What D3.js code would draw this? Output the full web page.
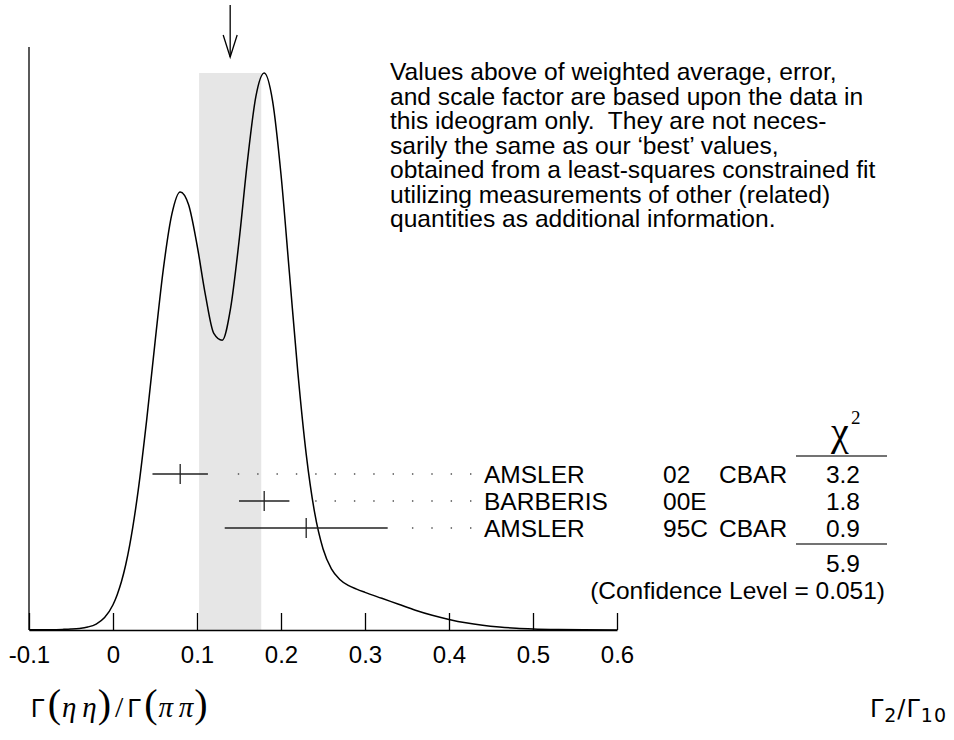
<!DOCTYPE html>
<html>
<head>
<meta charset="utf-8">
<script src="https://cdn.jsdelivr.net/npm/d3@7"></script>
<style>
  body { margin: 0; background: #fff; }
  text { font-family: "Liberation Sans", Arial, Helvetica, sans-serif; fill: #000; }
</style>
</head>
<body>
<div class="chart"></div>
<script>
var svgWidth = 954;
var svgHeight = 740;

// ideogram curve (x value, height in arbitrary units)
var ideoX = [-0.10, -0.08, -0.06, -0.05, -0.04, -0.03, -0.02, -0.01, 0.00, 0.005, 0.01, 0.015,
  0.02, 0.03, 0.04, 0.05, 0.06, 0.07, 0.08, 0.09, 0.10, 0.11, 0.12, 0.13, 0.14, 0.15,
  0.16, 0.17, 0.18, 0.19, 0.20, 0.21, 0.22, 0.23, 0.24, 0.25, 0.26, 0.27, 0.28, 0.29,
  0.30, 0.32, 0.34, 0.36, 0.38, 0.40, 0.42, 0.44, 0.46, 0.48, 0.50, 0.53, 0.56, 0.60];
var ideoY = [0.3, 0.6, 1.3, 2.0, 3.4, 6.5, 13, 27, 55, 77, 105, 141,
  186, 304, 456, 626, 787, 905, 954, 926, 839, 730, 646, 631, 701, 846,
  1020, 1161, 1213, 1152, 992, 778, 562, 383, 256, 177, 133, 110, 97, 89,
  82, 69, 56, 43, 32, 23, 15.6, 10.2, 6.4, 3.8, 2.2, 0.9, 0.3, 0.1];

// measurements
var names = ["AMSLER", "BARBERIS", "AMSLER"];
var years = ["02", "00E", "95C"];
var techs = ["CBAR", "", "CBAR"];
var values = [0.080, 0.180, 0.230];
var errors = [0.033, 0.030, 0.097];
var chi2 = ["3.2", "1.8", "0.9"];
var chi2Total = "5.9";
var confLevel = "0.051";

// weighted average and scaled error
var average = 0.1395;
var averageErr = 0.037;

var tickValues = [-0.1, 0, 0.1, 0.2, 0.3, 0.4, 0.5, 0.6];
var tickLabels = ["-0.1", "0", "0.1", "0.2", "0.3", "0.4", "0.5", "0.6"];

var noteLines = [
  "Values above of weighted average, error,",
  "and scale factor are based upon the data in",
  "this ideogram only.  They are not neces-",
  "sarily the same as our \u2018best\u2019 values,",
  "obtained from a least-squares constrained fit",
  "utilizing measurements of other (related)",
  "quantities as additional information."
];

var baseY = 630;

var svg = d3.select(".chart")
  .append("svg")
  .attr("width", svgWidth)
  .attr("height", svgHeight);

var xScale = d3.scaleLinear()
  .domain([-0.1, 0.6])
  .range([29, 617]);

var yScale = d3.scaleLinear()
  .domain([0, d3.max(ideoY)])
  .range([baseY, 73]);

var rowScale = d3.scalePoint()
  .domain(d3.range(names.length))
  .range([474, 528]);

// shaded band = average +- error
svg.append("rect")
  .attr("x", xScale(average - averageErr))
  .attr("y", yScale(d3.max(ideoY)))
  .attr("width", xScale(average + averageErr) - xScale(average - averageErr))
  .attr("height", baseY - yScale(d3.max(ideoY)))
  .attr("fill", "#e6e6e6");

// ideogram curve
var line = d3.line()
  .x(function(d, i) { return xScale(ideoX[i]); })
  .y(function(d) { return yScale(d); })
  .curve(d3.curveMonotoneX);

svg.append("path")
  .datum(ideoY)
  .attr("d", line)
  .attr("fill", "none")
  .attr("stroke", "#000")
  .attr("stroke-width", 1.5);

// x axis, ticks pointing up
var bottomAxis = d3.axisBottom(xScale)
  .tickValues(tickValues)
  .tickFormat(function(d, i) { return tickLabels[i]; })
  .tickSizeInner(-17)
  .tickSizeOuter(0)
  .tickPadding(16);

var axisG = svg.append("g")
  .attr("transform", `translate(0, ${baseY})`)
  .call(bottomAxis);

axisG.select(".domain").attr("stroke", "#000").attr("stroke-width", 1.3);
axisG.selectAll(".tick line").attr("stroke", "#000").attr("stroke-width", 1.3);
axisG.selectAll(".tick text")
  .attr("font-family", "Liberation Sans, Arial, sans-serif")
  .attr("font-size", "24px")
  .attr("fill", "#000");

// left vertical line
svg.append("line")
  .attr("x1", xScale(-0.1)).attr("x2", xScale(-0.1))
  .attr("y1", 47).attr("y2", baseY)
  .attr("stroke", "#000")
  .attr("stroke-width", 1.3);

// arrow at the weighted average
var ax = xScale(average);
svg.append("line")
  .attr("x1", ax).attr("x2", ax)
  .attr("y1", 5).attr("y2", 57)
  .attr("stroke", "#000").attr("stroke-width", 1.3);
svg.append("polyline")
  .attr("points", [[ax - 7, 35], [ax, 57], [ax + 7, 35]].join(" "))
  .attr("fill", "none")
  .attr("stroke", "#000").attr("stroke-width", 1.3);

// measurements: error bars, dotted leaders, labels
var rows = svg.selectAll(".meas")
  .data(values)
  .enter()
  .append("g")
  .attr("class", "meas");

rows.append("line")
  .attr("x1", function(d, i) { return xScale(d - errors[i]); })
  .attr("x2", function(d, i) { return xScale(d + errors[i]); })
  .attr("y1", function(d, i) { return rowScale(i); })
  .attr("y2", function(d, i) { return rowScale(i); })
  .attr("stroke", "#222").attr("stroke-width", 1.3);

rows.append("line")
  .attr("x1", function(d) { return xScale(d); })
  .attr("x2", function(d) { return xScale(d); })
  .attr("y1", function(d, i) { return rowScale(i) - 10; })
  .attr("y2", function(d, i) { return rowScale(i) + 10; })
  .attr("stroke", "#222").attr("stroke-width", 1.3);

rows.each(function(d, i) {
  var barEnd = xScale(d + errors[i]);
  var dots = [];
  for (var px = 470.7; px > barEnd + 15; px -= 19.35) dots.push(px);
  d3.select(this).selectAll("rect")
    .data(dots)
    .enter()
    .append("rect")
    .attr("x", function(p) { return p - 0.7; })
    .attr("y", rowScale(i) - 0.7)
    .attr("width", 1.4)
    .attr("height", 1.4)
    .attr("fill", "#444");
});

var fs = "24.5px";
rows.append("text")
  .attr("x", 484)
  .attr("y", function(d, i) { return rowScale(i) + 8.5; })
  .attr("font-size", fs)
  .text(function(d, i) { return names[i]; });

rows.append("text")
  .attr("x", 663)
  .attr("y", function(d, i) { return rowScale(i) + 8.5; })
  .attr("font-size", fs)
  .text(function(d, i) { return years[i]; });

rows.append("text")
  .attr("x", 719)
  .attr("y", function(d, i) { return rowScale(i) + 8.5; })
  .attr("font-size", fs)
  .text(function(d, i) { return techs[i]; });

rows.append("text")
  .attr("x", 860)
  .attr("text-anchor", "end")
  .attr("y", function(d, i) { return rowScale(i) + 8.5; })
  .attr("font-size", fs)
  .text(function(d, i) { return chi2[i]; });

// chi2 header and sum lines
svg.append("text")
  .attr("x", 840).attr("y", 445)
  .attr("text-anchor", "middle")
  .style("font-family", "Liberation Serif, Times New Roman, serif")
  .attr("font-size", "40px")
  .text("\u03c7");
svg.append("text")
  .attr("x", 851).attr("y", 424)
  .style("font-family", "Liberation Serif, Times New Roman, serif")
  .attr("font-size", "19px")
  .text("2");

[456, 544].forEach(function(ly) {
  svg.append("line")
    .attr("x1", 796).attr("x2", 887)
    .attr("y1", ly).attr("y2", ly)
    .attr("stroke", "#444").attr("stroke-width", 1.5);
});

svg.append("text")
  .attr("x", 860).attr("y", 572)
  .attr("text-anchor", "end")
  .attr("font-size", fs)
  .text(chi2Total);

svg.append("text")
  .attr("x", 885).attr("y", 599)
  .attr("text-anchor", "end")
  .attr("font-size", fs)
  .text("(Confidence Level = " + confLevel + ")");

// note paragraph
svg.append("g")
  .selectAll("text")
  .data(noteLines)
  .enter()
  .append("text")
  .attr("x", 390)
  .attr("y", function(d, i) { return 80 + i * 24.5; })
  .attr("font-size", "24.6px")
  .style("white-space", "pre")
  .attr("xml:space", "preserve")
  .text(function(d) { return d; });

// quantity label, bottom left
var serif = "Liberation Serif, Times New Roman, serif";
var q = svg.append("text")
  .attr("x", 31).attr("y", 717)
  .attr("font-size", "25px");
q.append("tspan").text("\u0393");
q.append("tspan").style("font-family", serif).attr("font-size", "40px").attr("dx", 3).text("(");
q.append("tspan").style("font-family", serif).attr("font-style", "italic").attr("font-size", "29px").attr("dx", 1).text("\u03b7\u2009\u03b7");
q.append("tspan").style("font-family", serif).attr("font-size", "40px").attr("dx", 1).text(")");
q.append("tspan").style("font-family", serif).attr("font-size", "30px").attr("dx", 4).text("/");
q.append("tspan").attr("dx", 4).text("\u0393");
q.append("tspan").style("font-family", serif).attr("font-size", "40px").attr("dx", 3).text("(");
q.append("tspan").style("font-family", serif).attr("font-style", "italic").attr("font-size", "29px").attr("dx", 1).text("\u03c0\u2009\u03c0");
q.append("tspan").style("font-family", serif).attr("font-size", "40px").attr("dx", 1).text(")");

// ratio label, bottom right
var r = svg.append("text")
  .attr("x", 947).attr("y", 717)
  .attr("text-anchor", "end")
  .style("font-family", "DejaVu Sans, sans-serif")
  .attr("font-size", "24px")
  .attr("letter-spacing", "1px");
r.append("tspan").text("\u0393");
r.append("tspan").attr("font-size", "19px").attr("dy", 5).text("2");
r.append("tspan").attr("dy", -5).text("/\u0393");
r.append("tspan").attr("font-size", "19px").attr("dy", 5).text("10");
</script>
</body>
</html>
